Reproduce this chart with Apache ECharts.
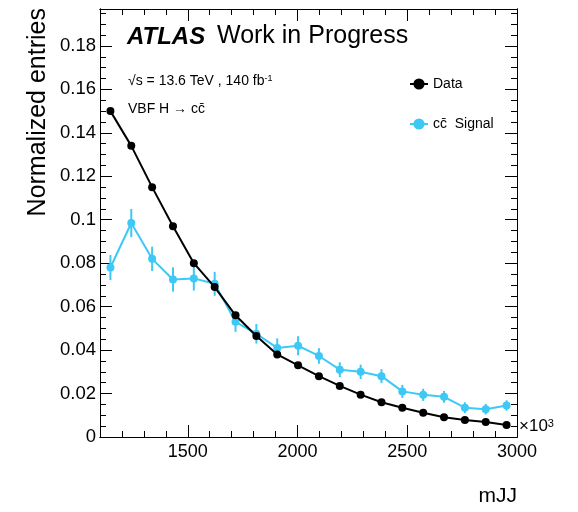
<!DOCTYPE html>
<html>
<head>
<meta charset="utf-8">
<script src="https://cdn.jsdelivr.net/npm/echarts@6/dist/echarts.min.js"></script>
<style>
  html, body { margin: 0; padding: 0; background: #fff; }
  #chart { width: 578px; height: 512px; }
</style>
</head>
<body>
<div id="chart"></div>
<script>
// mJJ bin centres (bins of 95 GeV from 1100 to 3000)
const binCenters = [1147.5, 1242.5, 1337.5, 1432.5, 1527.5, 1622.5, 1717.5, 1812.5, 1907.5, 2002.5,
                    2097.5, 2192.5, 2287.5, 2382.5, 2477.5, 2572.5, 2667.5, 2762.5, 2857.5, 2952.5];

// Normalized distributions
const dataValues = [0.150, 0.134, 0.115, 0.097, 0.080, 0.069, 0.056, 0.0465, 0.038, 0.033,
                    0.028, 0.0235, 0.0195, 0.016, 0.0135, 0.0112, 0.0091, 0.0078, 0.0069, 0.0055];
const signalValues = [0.078, 0.0985, 0.082, 0.0725, 0.073, 0.0705, 0.053, 0.0475, 0.041, 0.042,
                      0.0373, 0.031, 0.030, 0.028, 0.021, 0.0194, 0.0185, 0.0135, 0.0128, 0.0145];
const signalErrors = [0.0058, 0.0065, 0.0056, 0.0056, 0.0056, 0.0055, 0.0046, 0.0045, 0.0044, 0.0044,
                      0.0036, 0.0034, 0.0033, 0.0032, 0.0030, 0.0028, 0.0027, 0.0025, 0.0024, 0.0024];

// Axis ticks
const xMajorTicks = [1500, 2000, 2500, 3000];
const yMajorTicks = [0, 0.02, 0.04, 0.06, 0.08, 0.1, 0.12, 0.14, 0.16, 0.18];

const FONT = 'Liberation Sans, Arial, Helvetica, sans-serif';
const X_MIN = 1100, X_MAX = 3000, Y_MIN = 0, Y_MAX = 0.197;
const CYAN = '#3ec8f5';

const chart = echarts.init(document.getElementById('chart'), null, { renderer: 'canvas' });

function xAxisDef(position, major) {
  return {
    type: 'value', position: position, min: X_MIN, max: X_MAX,
    interval: major ? undefined : 100,
    axisLine: { show: true, onZero: false, lineStyle: { color: '#000', width: 1 } },
    axisTick: major
      ? { show: true, inside: true, length: 12, customValues: xMajorTicks, lineStyle: { color: '#000' } }
      : { show: true, inside: true, length: 6, lineStyle: { color: '#000' } },
    axisLabel: (major && position === 'bottom')
      ? { show: true, customValues: xMajorTicks, margin: 6, fontSize: 18, color: '#000', fontFamily: FONT,
          formatter: v => String(v) }
      : { show: false },
    splitLine: { show: false }
  };
}
function yAxisDef(position, major) {
  return {
    type: 'value', position: position, min: Y_MIN, max: Y_MAX,
    interval: major ? undefined : 0.005,
    axisLine: { show: true, onZero: false, lineStyle: { color: '#000', width: 1 } },
    axisTick: major
      ? { show: true, inside: true, length: 12, customValues: yMajorTicks, lineStyle: { color: '#000' } }
      : { show: true, inside: true, length: 6, lineStyle: { color: '#000' } },
    axisLabel: (major && position === 'left')
      ? { show: true, customValues: yMajorTicks, margin: 4, fontSize: 18.5, color: '#000', fontFamily: FONT,
          formatter: v => String(v) }
      : { show: false },
    splitLine: { show: false }
  };
}

const dataPoints = binCenters.map((x, i) => [x, dataValues[i]]);
const signalPoints = binCenters.map((x, i) => [x, signalValues[i]]);
const signalBars = binCenters.map((x, i) => [x, signalValues[i] - signalErrors[i], signalValues[i] + signalErrors[i]]);

const SIGNAL_NAME = 'c\u0063\u0304  Signal';

const option = {
  backgroundColor: '#fff',
  animation: false,
  grid: { left: 100, right: 61, top: 9, bottom: 75, show: false },
  xAxis: [xAxisDef('bottom', true), xAxisDef('bottom', false), xAxisDef('top', true), xAxisDef('top', false)],
  yAxis: [yAxisDef('left', true), yAxisDef('left', false), yAxisDef('right', true), yAxisDef('right', false)],
  legend: {
    orient: 'vertical', left: 404, top: 72, itemWidth: 18, itemHeight: 14, itemGap: 26,
    textStyle: { fontSize: 14, color: '#000', fontFamily: FONT },
    data: ['Data', SIGNAL_NAME]
  },
  series: [
    {
      name: SIGNAL_NAME, type: 'line', xAxisIndex: 0, yAxisIndex: 0,
      data: signalPoints, symbol: 'circle', symbolSize: 8, z: 3,
      itemStyle: { color: CYAN }, lineStyle: { color: CYAN, width: 2 }
    },
    {
      name: SIGNAL_NAME, type: 'custom', xAxisIndex: 0, yAxisIndex: 0, z: 3,
      data: signalBars,
      renderItem: function (params, api) {
        const top = api.coord([api.value(0), api.value(2)]);
        const bot = api.coord([api.value(0), api.value(1)]);
        return {
          type: 'line',
          shape: { x1: top[0], y1: top[1], x2: bot[0], y2: bot[1] },
          style: { stroke: CYAN, lineWidth: 2 }
        };
      }
    },
    {
      name: 'Data', type: 'line', xAxisIndex: 0, yAxisIndex: 0,
      data: dataPoints, symbol: 'circle', symbolSize: 8, z: 4,
      itemStyle: { color: '#000' }, lineStyle: { color: '#000', width: 2 }
    }
  ],
  graphic: [
    { type: 'text', left: 127, top: 25,
      style: { text: 'ATLAS', fontSize: 24, fontWeight: 'bold', fontStyle: 'italic', fontFamily: FONT, fill: '#000' } },
    { type: 'text', left: 217, top: 24,
      style: { text: 'Work in Progress', fontSize: 25, fontFamily: FONT, fill: '#000' } },
    { type: 'text', left: 128, top: 74,
      style: { text: '{n|\u221As = 13.6 TeV , 140 fb}{s|-1}', fontFamily: FONT, fill: '#000',
               rich: { n: { fontSize: 14, fontFamily: FONT, verticalAlign: 'bottom' },
                       s: { fontSize: 9, fontFamily: FONT, verticalAlign: 'top' } } } },
    { type: 'text', left: 128, top: 102,
      style: { text: 'VBF H \u2192 c\u0063\u0304', fontSize: 14, fontFamily: FONT, fill: '#000' } },
    { type: 'text', left: 519, top: 418,
      style: { text: '{m|\u00d710}{s|3}', fontFamily: FONT, fill: '#000',
               rich: { m: { fontSize: 17, fontFamily: FONT, verticalAlign: 'bottom' },
                       s: { fontSize: 11, fontFamily: FONT, verticalAlign: 'top' } } } },
    { type: 'text', right: 61, top: 486,
      style: { text: 'mJJ', fontSize: 21, fontFamily: FONT, fill: '#000' } },
    { type: 'text', left: 26, top: 8, rotation: Math.PI / 2,
      style: { text: 'Normalized entries', fontSize: 25, fontFamily: FONT, fill: '#000' } }
  ]
};

chart.setOption(option);
</script>
</body>
</html>
